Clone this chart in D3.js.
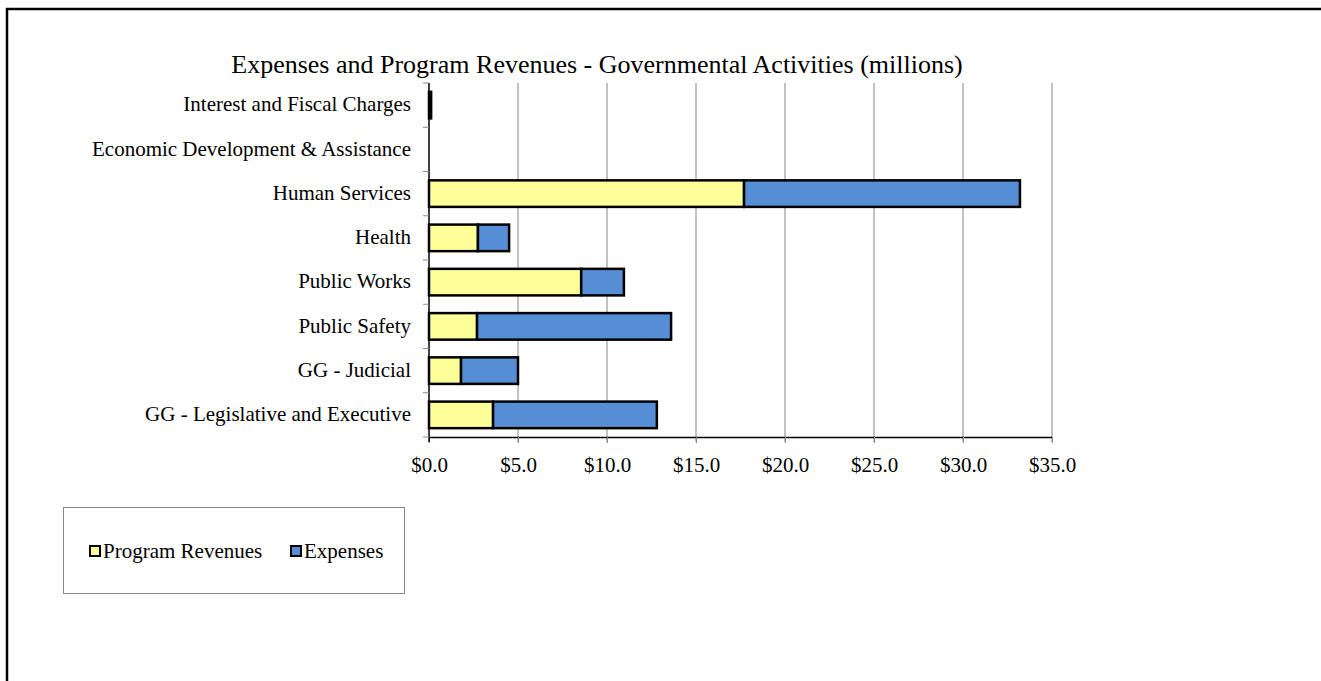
<!DOCTYPE html>
<meta charset="utf-8">
<style>
body { margin: 0; background: #fff; }
text { font-family: "Liberation Serif", "Times New Roman", serif; fill: #000; }
.title { font-size: 26px; }
.cat { font-size: 21px; }
.tick text { font-size: 21px; }
.legend text { font-size: 21px; }
</style>
<body>
<script src="https://cdnjs.cloudflare.com/ajax/libs/d3/7.8.5/d3.min.js"></script>
<script>

var categories = ["GG - Legislative and Executive", "GG - Judicial", "Public Safety", "Public Works",
                  "Health", "Human Services", "Economic Development & Assistance", "Interest and Fiscal Charges"];
var programRevenues = [3.6, 1.8, 2.7, 8.55, 2.75, 17.7, 0, 0];
var expenses = [9.2, 3.2, 10.9, 2.4, 1.75, 15.5, 0, 0.12];
var xTicks = [0, 5, 10, 15, 20, 25, 30, 35];
var seriesNames = ["Program Revenues", "Expenses"];
var colors = ["#ffff99", "#558ed5"];

var width = 1321,
    height = 681;

var svg = d3.select("body").append("svg")
    .attr("width", width)
    .attr("height", height);

// outer frame (top and left edges only visible)
svg.append("path")
    .attr("d", "M7,700V9H1330")
    .attr("fill", "none")
    .attr("stroke", "#000")
    .attr("stroke-width", 2.5);

svg.append("text")
    .attr("class", "title")
    .attr("x", 597)
    .attr("y", 73)
    .attr("text-anchor", "middle")
    .text("Expenses and Program Revenues - Governmental Activities (millions)");

var plotLeft = 429, plotRight = 1052, plotTop = 83, plotBottom = 437;

var x = d3.scaleLinear().domain([0, 35]).range([plotLeft, plotRight]);
var y = d3.scaleBand().domain(categories.slice().reverse()).range([plotTop, plotBottom]).paddingInner(0.4).paddingOuter(0.2);
var yTick = d3.scaleBand().domain(categories.slice().reverse()).range([plotTop, plotBottom]);

// gridlines
svg.append("g").selectAll("line")
    .data(xTicks.slice(1))
    .enter().append("line")
    .attr("x1", function(d) { return x(d); })
    .attr("x2", function(d) { return x(d); })
    .attr("y1", plotTop)
    .attr("y2", plotBottom + 5)
    .attr("stroke", "#999")
    .attr("stroke-width", 1.2);

// bars
var data = categories.map(function(c, i) {
  return {cat: c, vals: [programRevenues[i], expenses[i]]};
});

data.forEach(function(d) {
  var x0 = 0;
  d.vals.forEach(function(v, k) {
    if (v > 0) {
      svg.append("rect")
          .attr("x", x(x0))
          .attr("y", y(d.cat))
          .attr("width", x(x0 + v) - x(x0))
          .attr("height", y.bandwidth())
          .attr("fill", colors[k])
          .attr("stroke", "#000")
          .attr("stroke-width", 2.5);
    }
    x0 += v;
  });
});

// x axis
var xAxis = svg.append("g")
    .attr("transform", "translate(0," + plotBottom + ")")
    .call(d3.axisBottom(x).tickValues(xTicks).tickSize(6).tickPadding(14)
      .tickFormat(function(d) { return "$" + d.toFixed(1); }));
xAxis.attr("font-family", null).attr("font-size", null);
xAxis.select(".domain").attr("stroke", "#000").attr("stroke-width", 1.5).attr("d", "M" + plotLeft + ",0.5H" + plotRight);
xAxis.selectAll(".tick line").attr("stroke", "#888");

// y axis
svg.append("line")
    .attr("x1", plotLeft).attr("x2", plotLeft)
    .attr("y1", plotTop).attr("y2", plotBottom + 5)
    .attr("stroke", "#000").attr("stroke-width", 1.5);

svg.append("g").selectAll("line")
    .data(categories.concat(["end"]))
    .enter().append("line")
    .attr("x1", plotLeft - 6).attr("x2", plotLeft)
    .attr("y1", function(d, i) { return plotTop + i * yTick.step(); })
    .attr("y2", function(d, i) { return plotTop + i * yTick.step(); })
    .attr("stroke", "#888");

svg.append("g").selectAll("text")
    .data(categories)
    .enter().append("text")
    .attr("class", "cat")
    .attr("x", 411)
    .attr("y", function(d) { return yTick(d) + yTick.bandwidth() / 2; })
    .attr("dy", "0.3em")
    .attr("text-anchor", "end")
    .text(function(d) { return d; });

// legend
var legend = svg.append("g").attr("class", "legend");
legend.append("rect")
    .attr("x", 63.5).attr("y", 507.5)
    .attr("width", 341).attr("height", 86)
    .attr("fill", "none").attr("stroke", "#888");

var legendX = [90, 291];
seriesNames.forEach(function(s, k) {
  legend.append("rect")
      .attr("x", legendX[k]).attr("y", 546)
      .attr("width", 10).attr("height", 10)
      .attr("fill", colors[k])
      .attr("stroke", "#000").attr("stroke-width", 2);
  legend.append("text")
      .attr("x", legendX[k] + 13).attr("y", 551)
      .attr("dy", "0.35em")
      .text(s);
});

</script>
